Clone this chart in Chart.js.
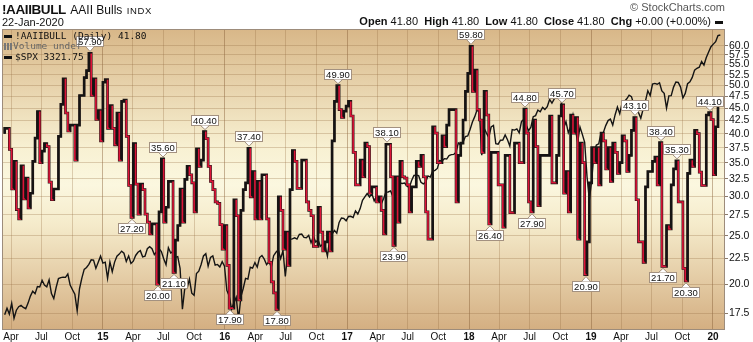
<!DOCTYPE html>
<html>
<head>
<meta charset="utf-8">
<script src="https://cdn.jsdelivr.net/npm/chart.js@4.4.1/dist/chart.umd.min.js"></script>
<style>
  html, body { margin: 0; padding: 0; background: #fff; }
  #wrap { position: relative; width: 753px; height: 342px; overflow: hidden; font-family: "Liberation Sans", Arial, sans-serif; color: #111; }
  canvas { display: block; }
  .abs { position: absolute; white-space: nowrap; }
  #title { left: 2px; top: 0px; }
  #title b { font-size: 13.5px; letter-spacing: -0.4px; }
  #title .name { font-size: 12px; }
  #title .exch { font-size: 9.5px; letter-spacing: 0.6px; }
  #copy { right: 28px; top: 1px; font-size: 11px; color: #555; }
  #date { left: 2px; top: 16px; font-size: 11px; }
  #ohlc { right: 30px; top: 15px; font-size: 11px; }
  .dash { display: inline-block; width: 8px; height: 3px; background: #111; vertical-align: middle; margin-left: 4px; }
  .leg { left: 4px; font-family: "DejaVu Sans Mono", monospace; font-size: 9.5px; }
  .leg .dash { margin: 0 3px 0 0; }
  #leg1 { top: 30px; }
  #leg2 { top: 40px; color: #666; }
  #leg3 { top: 51px; }
  .bars { display: inline-block; width: 8px; height: 7px; margin-right: 1px; vertical-align: -1px;
          background: linear-gradient(90deg, #777 0 2px, transparent 2px 3px, #777 3px 5px, transparent 5px 6px, #777 6px 8px); }
</style>
</head>
<body>
<div id="wrap">
  <canvas id="chart" width="753" height="342"></canvas>
  <div class="abs" id="title"><b>!AAIIBULL</b> <span class="name">AAII Bulls</span> <span class="exch">INDX</span></div>
  <div class="abs" id="copy">© StockCharts.com</div>
  <div class="abs" id="date">22-Jan-2020</div>
  <div class="abs" id="ohlc"><b>Open</b> 41.80 &nbsp;<b>High</b> 41.80 &nbsp;<b>Low</b> 41.80 &nbsp;<b>Close</b> 41.80 &nbsp;<b>Chg</b> +0.00 (+0.00%)<span class="dash"></span></div>
  <div class="abs leg" id="leg1"><span class="dash"></span>!AAIIBULL (Daily) 41.80</div>
  <div class="abs leg" id="leg2"><span class="bars"></span>Volume undef</div>
  <div class="abs leg" id="leg3"><span class="dash"></span>$SPX 3321.75</div>
</div>
<script>
// weekly AAII bullish readings, first one dated 2014-03-13
const weekStart = "2014-03-13";

const aaiiBull = [
  40.0, 41.0, 41.0, 37.2, 31.0, 35.2, 28.2, 27.0, 34.5, 29.6,
  32.6, 28.4, 30.4, 35.2, 39.2, 44.3, 35.0, 36.9, 38.2, 37.7,
  32.0, 29.5, 31.0, 31.0, 39.5, 45.8, 51.5, 44.0, 40.5, 41.6,
  41.6, 35.4, 41.6, 47.7, 47.7, 51.8, 53.5, 57.9, 47.7, 51.5,
  42.7, 44.5, 38.7, 50.7, 51.3, 41.0, 45.5, 41.0, 38.0, 44.0,
  35.4, 46.4, 46.7, 39.5, 31.5, 27.2, 38.2, 31.7, 27.6, 31.7,
  30.9, 27.6, 26.6, 25.2, 26.4, 26.4, 20.0, 27.9, 35.6, 26.6,
  28.5, 32.1, 32.1, 21.1, 24.5, 26.2, 31.0, 26.6, 32.4, 34.4,
  33.1, 31.9, 27.9, 37.3, 34.4, 35.4, 40.4, 39.1, 34.4, 32.1,
  30.9, 29.2, 29.0, 26.3, 23.5, 26.2, 21.8, 17.9, 17.9, 29.5,
  27.4, 18.6, 28.1, 30.9, 31.9, 37.4, 29.9, 33.6, 27.0, 32.1,
  27.0, 33.1, 33.1, 27.0, 22.1, 20.2, 19.2, 17.8, 29.9, 28.1,
  23.5, 25.4, 21.8, 30.9, 37.0, 35.2, 31.1, 31.1, 35.4, 35.4,
  29.2, 28.1, 27.4, 23.8, 23.8, 28.5, 25.4, 23.3, 24.3, 25.4,
  23.3, 38.7, 46.4, 49.9, 44.7, 43.1, 44.4, 45.4, 46.4, 43.4,
  36.7, 31.6, 31.6, 35.4, 32.8, 38.3, 37.7, 30.4, 31.3, 31.3,
  29.2, 29.9, 28.1, 25.2, 38.1, 38.1, 32.8, 23.9, 32.8, 26.6,
  35.2, 32.8, 32.6, 31.6, 27.9, 31.3, 31.3, 35.2, 34.4, 36.2,
  32.8, 27.9, 24.6, 24.6, 41.3, 40.1, 35.0, 35.0, 39.6, 37.7,
  41.6, 44.7, 44.7, 44.7, 29.2, 36.2, 38.3, 42.6, 48.6, 52.8,
  59.8, 48.6, 53.6, 44.7, 42.6, 36.7, 48.6, 43.6, 26.4, 36.7,
  36.7, 36.7, 31.6, 31.6, 26.0, 36.2, 36.2, 27.8, 27.8, 38.3,
  38.3, 35.0, 35.0, 44.8, 40.1, 29.2, 27.9, 42.6, 37.7, 28.7,
  36.2, 36.2, 36.2, 36.2, 43.4, 31.9, 31.9, 36.2, 43.4, 45.7,
  30.4, 33.6, 27.9, 43.6, 40.1, 43.1, 24.6, 38.3, 35.0, 20.9,
  24.3, 31.9, 37.5, 35.0, 37.5, 31.6, 40.1, 38.7, 34.0, 37.5,
  32.1, 38.3, 36.7, 33.3, 35.0, 39.6, 38.7, 33.6, 36.2, 40.6,
  43.1, 29.5, 24.3, 24.3, 22.1, 31.3, 33.6, 33.6, 35.2, 35.9,
  31.6, 38.4, 21.7, 21.7, 26.2, 25.8, 31.6, 34.0, 35.3, 29.2,
  29.2, 21.5, 20.3, 33.3, 35.4, 34.4, 40.6, 40.0, 33.5, 31.5,
  31.5, 43.6, 44.1, 42.7, 33.1, 41.3, 45.6
];

// $SPX overlay, same weeks
const spxClose = [
  1846, 1872, 1849, 1891, 1833, 1864, 1878, 1883, 1875, 1870, 1892, 1920, 1940, 1930,
  1959, 1957, 1985, 1965, 1958, 1987, 1930, 1910, 1955, 1992, 1996, 1998, 1997, 2011,
  1965, 1946, 1928, 1862, 1950, 1994, 2031, 2039, 2052, 2072, 2071, 2035, 2061, 2088,
  2058, 2062, 1993, 2063, 2021, 2062, 2088, 2097, 2110, 2101, 2065, 2089, 2056, 2066,
  2091, 2105, 2112, 2085, 2088, 2121, 2130, 2121, 2095, 2108, 2121, 2108, 2077, 2051,
  2125, 2102, 2108, 2083, 2086, 2035, 1868, 1951, 1952, 1990, 1932, 1923, 2013, 2023,
  2052, 2089, 2099, 2045, 2082, 2089, 2049, 2052, 2041, 2064, 2044,
  1943, 1921, 1869, 1893, 1915, 1829, 1917, 1951, 1993, 1990, 2040, 2036, 2060, 2041,
  2082, 2091, 2075, 2051, 2064, 2040, 2090, 2105, 2116, 2077, 2113, 2001, 2097, 2163,
  2165, 2170, 2164, 2186, 2187, 2172, 2170, 2181, 2147, 2177, 2151, 2160, 2132, 2141,
  2133, 2088, 2167, 2187, 2204, 2191, 2241, 2262, 2260, 2249,
  2269, 2270, 2264, 2296, 2281, 2307, 2347, 2364, 2381, 2364, 2381, 2345, 2368, 2357,
  2329, 2355, 2388, 2389, 2394, 2366, 2415, 2430, 2434, 2432, 2434, 2419, 2410, 2447,
  2473, 2475, 2472, 2438, 2430, 2438, 2471, 2465, 2495, 2500, 2510, 2552, 2550, 2562,
  2560, 2579, 2584, 2585, 2597, 2648, 2637, 2652, 2684, 2687,
  2724, 2767, 2798, 2839, 2822, 2581, 2731, 2703, 2678, 2738, 2747, 2644, 2641, 2663,
  2664, 2693, 2666, 2630, 2723, 2720, 2727, 2705, 2770, 2782, 2749, 2716, 2737, 2798,
  2804, 2837, 2827, 2853, 2840, 2857, 2901, 2878, 2904, 2931, 2915, 2902, 2729, 2769,
  2705, 2740, 2807, 2730, 2650, 2738, 2696, 2651, 2467, 2351,
  2448, 2597, 2636, 2643, 2704, 2707, 2746, 2775, 2784, 2749, 2808, 2855, 2815, 2880,
  2888, 2905, 2927, 2918, 2871, 2876, 2823, 2789, 2843, 2892, 2954, 2925, 2996, 3000,
  2995, 3004, 2953, 2938, 2848, 2923, 2924, 2977, 3009, 3006, 2977, 2910, 2938, 2998,
  3010, 3038, 3085, 3097, 3104, 3141, 3118, 3168, 3205, 3240,
  3258, 3275, 3317, 3321
];

// labelled highs / lows, in date order
const markValues = [57.9, 27.2, 20.0, 35.6, 21.1, 40.4, 17.9, 37.4, 17.8, 49.9, 38.1, 23.9,
  59.8, 26.4, 44.8, 27.9, 45.7, 20.9, 43.1, 38.4, 21.7, 35.3, 20.3, 44.1];
const markSides = ["hi", "lo", "lo", "hi", "lo", "hi", "lo", "hi", "lo", "hi", "hi", "lo",
  "hi", "lo", "hi", "lo", "hi", "lo", "hi", "hi", "lo", "hi", "lo", "hi"];

const tickDates = [
  "2014-04-01", "2014-07-01", "2014-10-01",
  "2015-01-01", "2015-04-01", "2015-07-01", "2015-10-01",
  "2016-01-01", "2016-04-01", "2016-07-01", "2016-10-01",
  "2017-01-01", "2017-04-01", "2017-07-01", "2017-10-01",
  "2018-01-01", "2018-04-01", "2018-07-01", "2018-10-01",
  "2019-01-01", "2019-04-01", "2019-07-01", "2019-10-01",
  "2020-01-01"
];
const tickLabels = [
  "Apr", "Jul", "Oct",
  "15", "Apr", "Jul", "Oct",
  "16", "Apr", "Jul", "Oct",
  "17", "Apr", "Jul", "Oct",
  "18", "Apr", "Jul", "Oct",
  "19", "Apr", "Jul", "Oct",
  "20"
];
const yTicks = [17.5, 20, 22.5, 25, 27.5, 30, 32.5, 35, 37.5, 40, 42.5, 45, 47.5, 50, 52.5, 55, 57.5, 60];

const DAY = 86400000;
const t0 = Date.parse(weekStart);
const weeks = aaiiBull.map((_, i) => t0 + i * 7 * DAY);

// up / down per week, flat weeks keep the previous direction
const dir = [];
aaiiBull.forEach((v, i) => {
  if (i === 0) dir.push(1);
  else if (v < aaiiBull[i - 1]) dir.push(-1);
  else if (v > aaiiBull[i - 1]) dir.push(1);
  else dir.push(dir[i - 1]);
});

const RED = "#dc1438";
const INK = "#141414";
const FONT = '"Liberation Sans", Arial, sans-serif';

const backdrop = {
  id: "backdrop",
  beforeDraw(chart) {
    const { ctx, chartArea: a } = chart;
    const g = ctx.createLinearGradient(0, a.top, 0, a.bottom);
    g.addColorStop(0, "#d8b788");
    g.addColorStop(0.4, "#f8f1d3");
    g.addColorStop(0.52, "#fbf7df");
    g.addColorStop(0.65, "#f5ebcb");
    g.addColorStop(1, "#d4af82");
    ctx.save();
    ctx.fillStyle = g;
    ctx.fillRect(a.left, a.top, a.right - a.left, a.bottom - a.top);
    ctx.restore();
  },
  afterDraw(chart) {
    const { ctx, chartArea: a } = chart;
    ctx.save();
    ctx.strokeStyle = "#9d8c7b";
    ctx.lineWidth = 1;
    ctx.strokeRect(a.left + 0.5, a.top + 0.5, a.right - a.left - 1, a.bottom - a.top);
    ctx.restore();
  },
};

const marks = {
  id: "marks",
  afterDatasetsDraw(chart) {
    const meta = chart.getDatasetMeta(0);
    const ctx = chart.ctx;
    ctx.save();
    ctx.font = "9.5px " + FONT;
    ctx.textAlign = "center";
    ctx.textBaseline = "middle";
    let from = 0;
    markValues.forEach((v, k) => {
      const i = aaiiBull.indexOf(v, from);
      if (i < 0) return;
      from = i + 1;
      const p = meta.data[i];
      const q = meta.data[i - 1] || p;
      const x = Math.round((p.x + q.x) / 2);
      const y = p.y;
      const text = v.toFixed(2);
      const w = Math.round(ctx.measureText(text).width) + 4;
      const h = 11;
      const hi = markSides[k] === "hi";
      const tip = hi ? y - 2 : y + 2;
      const edge = Math.round(hi ? y - 6 : y + 6);
      const top = hi ? edge - h : edge;
      ctx.fillStyle = "#fff";
      ctx.strokeStyle = "#a39180";
      ctx.lineWidth = 1;
      ctx.fillRect(x - w / 2, top, w, h);
      ctx.strokeRect(x - w / 2 + 0.5, top + 0.5, w - 1, h - 1);
      ctx.beginPath();
      ctx.moveTo(x - 4, hi ? edge - 0.5 : edge + 0.5);
      ctx.lineTo(x, tip);
      ctx.lineTo(x + 4, hi ? edge - 0.5 : edge + 0.5);
      ctx.closePath();
      ctx.fill();
      ctx.beginPath();
      ctx.moveTo(x - 4, edge);
      ctx.lineTo(x, tip);
      ctx.lineTo(x + 4, edge);
      ctx.stroke();
      ctx.fillStyle = "#111";
      ctx.fillText(text, x, top + h / 2 + 0.5);
    });
    ctx.restore();
  },
};

Chart.defaults.font.family = FONT;
Chart.defaults.color = "#222";

new Chart(document.getElementById("chart"), {
  type: "line",
  data: {
    datasets: [
      {
        label: "!AAIIBULL",
        data: weeks.map((t, i) => ({ x: t, y: aaiiBull[i] })),
        yAxisID: "y",
        stepped: "after",
        borderWidth: 1.6,
        borderColor: INK,
        pointRadius: 0,
        segment: {
          borderColor: (c) => (dir[c.p1DataIndex] < 0 ? RED : INK),
        },
      },
      {
        label: "outline",
        data: weeks.map((t, i) => ({ x: t, y: aaiiBull[i] })),
        yAxisID: "y",
        stepped: "after",
        borderWidth: 2.7,
        borderColor: "#1e1414",
        pointRadius: 0,
      },
      {
        label: "$SPX",
        data: weeks.map((t, i) => ({ x: t, y: spxClose[i] })),
        yAxisID: "ySpx",
        borderWidth: 1.4,
        borderColor: INK,
        pointRadius: 0,
        tension: 0,
      },
    ],
  },
  options: {
    responsive: false,
    animation: false,
    devicePixelRatio: 1,
    events: [],
    layout: { padding: { top: 29, left: 2, right: 0, bottom: 0 } },
    plugins: { legend: { display: false }, tooltip: { enabled: false } },
    scales: {
      x: {
        type: "linear",
        min: Date.parse("2014-03-05"),
        max: Date.parse("2020-02-06"),
        afterBuildTicks: (s) => {
          s.ticks = tickDates.map((d, i) => ({ value: Date.parse(d), major: /^\d/.test(tickLabels[i]) }));
        },
        afterFit: (s) => { s.height = 13; },
        border: { display: false },
        grid: {
          drawTicks: false,
          color: (c) => (c.tick && c.tick.major ? "rgba(135,95,55,0.45)" : "rgba(150,110,65,0.3)"),
        },
        ticks: {
          autoSkip: false,
          maxRotation: 0,
          padding: 2,
          color: "#111",
          font: (c) => ({ size: 10, weight: c.tick && c.tick.major ? "bold" : "normal" }),
          callback: (v, i) => tickLabels[i],
        },
      },
      y: {
        type: "logarithmic",
        position: "right",
        min: 16.26,
        max: 64.8,
        afterBuildTicks: (s) => { s.ticks = yTicks.map((v) => ({ value: v })); },
        afterFit: (s) => { s.width = 28; },
        border: { display: false },
        grid: { color: "rgba(150,110,65,0.3)", tickLength: 3, tickColor: "#8a7a6a" },
        ticks: {
          padding: 1,
          color: "#111",
          font: { size: 10.5 },
          callback: (v) => Number(v).toFixed(1),
        },
      },
      ySpx: {
        type: "logarithmic",
        display: false,
        min: 1792,
        max: 3363,
      },
    },
  },
  plugins: [backdrop, marks],
});
</script>
</body>
</html>
